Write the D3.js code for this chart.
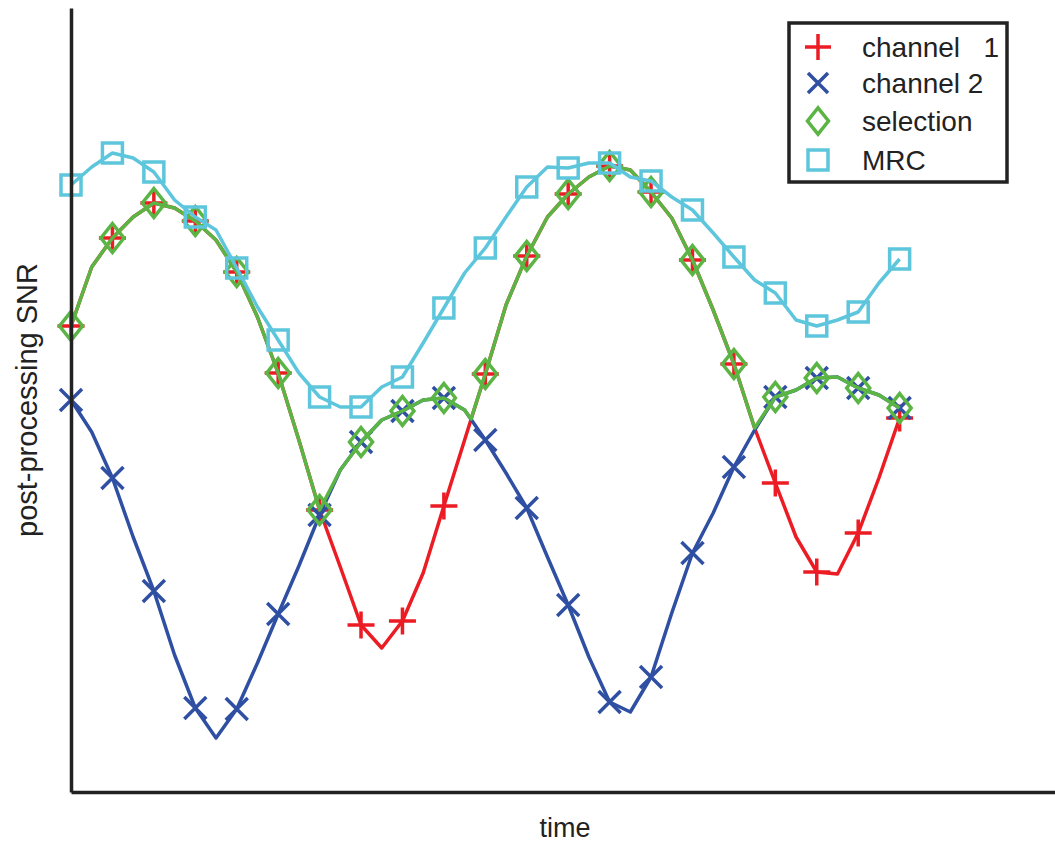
<!DOCTYPE html>
<html>
<head>
<meta charset="utf-8">
<script src="https://cdn.jsdelivr.net/npm/d3@7"></script>
<style>
  html, body { margin: 0; padding: 0; background: #fff; }
  svg { display: block; font-family: "Liberation Sans", Arial, Helvetica, sans-serif; }
</style>
</head>
<body>
<div id="chart"></div>
<script>
// time samples (markers on every 2nd sample)
const time = [0, 1, 2, 3, 4, 5, 6, 7, 8, 9, 10, 11, 12, 13, 14, 15, 16, 17, 18, 19, 20,
              21, 22, 23, 24, 25, 26, 27, 28, 29, 30, 31, 32, 33, 34, 35, 36, 37, 38, 39, 40];

const channel1 = [46.6, 52.5, 55.4, 57.5, 58.9, 58.4, 57.1, 55.2, 52.0, 47.5, 41.9,
                  35.2, 28.2, 22.5, 16.7, 14.4, 17.1, 21.9, 28.6, 35.2, 41.8,
                  48.7, 53.6, 57.5, 59.8, 61.5, 62.6, 62.2, 60.0, 57.4, 53.2,
                  48.2, 42.8, 36.4, 30.9, 25.5, 22.0, 21.8, 25.9, 31.4, 37.4];

const channel2 = [39.2, 36.0, 31.4, 25.5, 20.1, 13.7, 8.4, 5.4, 8.3, 12.9, 17.8,
                  22.6, 27.7, 32.2, 35.0, 37.2, 38.1, 39.2, 39.4, 38.2, 35.2,
                  31.9, 28.4, 23.5, 18.7, 13.5, 9.0, 8.0, 11.5, 17.9, 23.9,
                  27.9, 32.5, 36.2, 39.5, 40.2, 41.4, 41.5, 40.4, 39.7, 38.4];

// selection follows whichever channel is stronger (crossing at t = 19.31 included)
const selectionTime = [0, 1, 2, 3, 4, 5, 6, 7, 8, 9, 10, 11, 12, 13, 14, 15, 16, 17, 18, 19, 19.31, 20,
                       21, 22, 23, 24, 25, 26, 27, 28, 29, 30, 31, 32, 33, 34, 35, 36, 37, 38, 39, 40];
const selectionSnr = [46.6, 52.5, 55.4, 57.5, 58.9, 58.4, 57.1, 55.2, 52.0, 47.5, 41.9,
                      35.2, 28.2, 32.2, 35.0, 37.2, 38.1, 39.2, 39.4, 38.2, 37.3, 41.8,
                      48.7, 53.6, 57.5, 59.8, 61.5, 62.6, 62.2, 60.0, 57.4, 53.2,
                      48.2, 42.8, 36.4, 39.5, 40.2, 41.4, 41.5, 40.4, 39.7, 38.4];

const mrc = [60.7, 62.5, 63.9, 63.4, 62.0, 59.2, 57.5, 56.2, 52.4, 48.5, 45.2,
             41.9, 39.5, 38.5, 38.5, 40.5, 41.5, 44.9, 48.4, 51.9, 54.4,
             57.5, 60.5, 62.5, 62.4, 62.9, 62.9, 61.5, 61.1, 59.5, 58.2,
             55.9, 53.5, 51.2, 49.9, 47.2, 46.6, 47.2, 48.0, 50.9, 53.3];

const legendLabels = ["channel   1", "channel 2", "selection", "MRC"];

const width = 1055, height = 842;
const colors = { ch1: "#ec1c24", ch2: "#2f4fa3", sel: "#5bb544", mrc: "#5ec6dc" };

const svg = d3.select("#chart").append("svg")
    .attr("width", width)
    .attr("height", height);

const x = d3.scaleLinear().domain([0, 47.5]).range([71, 1055]);
const y = d3.scaleLinear().domain([0, 78.4]).range([792, 8]);

// marker shapes
const markers = {
    plus: s => `M${-s},0H${s}M0,${-s}V${s}`,
    cross: s => `M${-s},${-s}L${s},${s}M${-s},${s}L${s},${-s}`,
    diamond: s => `M0,${-s * 1.25}L${s},0L0,${s * 1.25}L${-s},0Z`,
    square: s => `M${-s},${-s}H${s}V${s}H${-s}Z`
};

const series = [
    { key: "ch1", t: time, v: channel1, shape: "plus", size: 13.5 },
    { key: "ch2", t: time, v: channel2, shape: "cross", size: 11 },
    { key: "sel", t: selectionTime, v: selectionSnr, shape: "diamond", size: 11.5 },
    { key: "mrc", t: time, v: mrc, shape: "square", size: 10 }
];

const line = d3.line()
    .x(d => x(d[0]))
    .y(d => y(d[1]));

const plot = svg.append("g");

series.forEach(s => {
    const pts = s.t.map((t, i) => [t, s.v[i]]);
    const g = plot.append("g");
    g.append("path")
        .attr("d", line(pts))
        .attr("fill", "none")
        .attr("stroke", colors[s.key])
        .attr("stroke-width", 3.5)
        .attr("stroke-linejoin", "round");

    g.selectAll("path.marker")
        .data(pts.filter(p => Number.isInteger(p[0]) && p[0] % 2 === 0))
        .join("path")
        .attr("class", "marker")
        .attr("transform", d => `translate(${x(d[0])},${y(d[1])})`)
        .attr("d", markers[s.shape](s.size))
        .attr("fill", "none")
        .attr("stroke", colors[s.key])
        .attr("stroke-width", 3.5);
});

// axes, no ticks
svg.append("g")
    .attr("transform", "translate(0,792)")
    .call(d3.axisBottom(x).tickValues([]).tickSizeOuter(0))
    .select(".domain")
    .attr("stroke", "#222")
    .attr("stroke-width", 3.5);

svg.append("g")
    .attr("transform", "translate(71,0)")
    .call(d3.axisLeft(y).tickValues([]).tickSizeOuter(0))
    .select(".domain")
    .attr("stroke", "#222")
    .attr("stroke-width", 3.5);

svg.append("text")
    .attr("x", 565)
    .attr("y", 837)
    .attr("text-anchor", "middle")
    .attr("font-size", 27)
    .attr("fill", "#222")
    .text("time");

svg.append("text")
    .attr("transform", "translate(37,400) rotate(-90)")
    .attr("text-anchor", "middle")
    .attr("font-size", 29)
    .attr("fill", "#222")
    .text("post-processing SNR");

// legend
const legend = svg.append("g");
legend.append("rect")
    .attr("x", 789).attr("y", 23)
    .attr("width", 218).attr("height", 159)
    .attr("fill", "#fff")
    .attr("stroke", "#222")
    .attr("stroke-width", 3.5);

const legendBaselines = [57, 93, 131, 170];
const legendSizes = [13, 10, 10.5, 10];
series.forEach((s, i) => {
    legend.append("path")
        .attr("transform", `translate(818,${legendBaselines[i] - 10})`)
        .attr("d", markers[s.shape](legendSizes[i]))
        .attr("fill", "none")
        .attr("stroke", colors[s.key])
        .attr("stroke-width", 3.5);
    legend.append("text")
        .attr("x", 862)
        .attr("y", legendBaselines[i])
        .attr("font-size", 28)
        .attr("fill", "#222")
        .style("white-space", "pre")
        .text(legendLabels[i]);
});
</script>
</body>
</html>
